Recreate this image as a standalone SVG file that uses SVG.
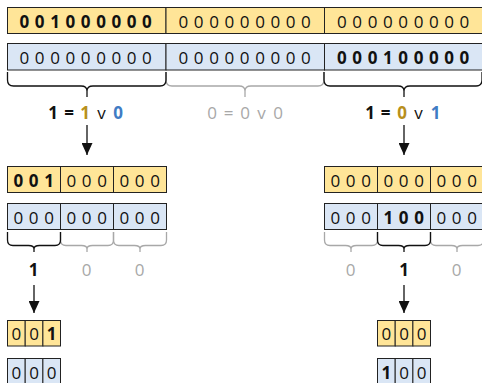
<svg xmlns="http://www.w3.org/2000/svg" width="482" height="383" viewBox="0 0 482 383">
  <style>
    .y { fill: #ffe598; stroke: #222; stroke-width: 1; }
    .b { fill: #dae6f5; stroke: #222; stroke-width: 1; }
    .d { font-family: "Open Sans", "DejaVu Sans", sans-serif; font-size: 17px; fill: #111; text-anchor: middle; }
    .s { letter-spacing: 5.6px; }
    .bold { font-weight: bold; }
    .lbl { font-family: "Open Sans", "DejaVu Sans", sans-serif; font-size: 17px; text-anchor: middle; }
    .k { fill: #111; font-weight: bold; }
    .g { fill: #a8a8a8; }
    .gold { fill: #b8901c; font-weight: bold; }
    .blu { fill: #3f7cc4; font-weight: bold; }
    .v { fill: #111; }
    .br-k { fill: none; stroke: #111; stroke-width: 1.3; }
    .br-g { fill: none; stroke: #a8a8a8; stroke-width: 1.3; }
    .arr { stroke: #111; stroke-width: 1.3; fill: none; marker-end: url(#head); }
  </style>
  <defs>
    <marker id="head" markerUnits="userSpaceOnUse" markerWidth="13" markerHeight="11" refX="12" refY="5.5" orient="auto">
      <path d="M0,0 L12,5.5 L0,11 z" fill="#111"/>
    </marker>
  </defs>

  <!-- level 1: three 9-bit blocks -->
  <g id="l1-a">
    <rect class="y" x="7.5" y="7.5" width="158.5" height="26"/>
    <rect class="y" x="166" y="7.5" width="158.5" height="26"/>
    <rect class="y" x="324.5" y="7.5" width="158.5" height="26"/>
    <text class="d s bold" x="88.5" y="28">001000000</text>
    <text class="d s" x="247.5" y="28">000000000</text>
    <text class="d s" x="406" y="28">000000000</text>
  </g>
  <g id="l1-b">
    <rect class="b" x="7.5" y="43.5" width="158.5" height="26.5"/>
    <rect class="b" x="166" y="43.5" width="158.5" height="26.5"/>
    <rect class="b" x="324.5" y="43.5" width="158.5" height="26.5"/>
    <text class="d s" x="88.5" y="64">000000000</text>
    <text class="d s" x="247.5" y="64">000000000</text>
    <text class="d s bold" x="406" y="64">000100000</text>
  </g>

  <!-- level 1 OR results -->
  <g id="or-1">
    <text class="lbl" y="118.5"><tspan class="k" x="53">1</tspan><tspan class="k" x="69">=</tspan><tspan class="gold" x="85">1</tspan><tspan class="v" x="101.5">v</tspan><tspan class="blu" x="118">0</tspan></text>
  </g>
  <g id="or-2">
    <text class="lbl g" y="118.5"><tspan x="212">0</tspan><tspan x="228.5">=</tspan><tspan x="245">0</tspan><tspan x="261.5">v</tspan><tspan x="278">0</tspan></text>
  </g>
  <g id="or-3">
    <text class="lbl" y="118.5"><tspan class="k" x="370">1</tspan><tspan class="k" x="385.5">=</tspan><tspan class="gold" x="402">0</tspan><tspan class="v" x="418.5">v</tspan><tspan class="blu" x="435.5">1</tspan></text>
  </g>

  <!-- level 2: left triple -->
  <g id="l2-left-a">
    <rect class="y" x="7.5" y="166.5" width="53" height="26"/>
    <rect class="y" x="60.5" y="166.5" width="53" height="26"/>
    <rect class="y" x="113.5" y="166.5" width="53" height="26"/>
    <text class="d s bold" x="36.5" y="187">001</text>
    <text class="d s" x="89.5" y="187">000</text>
    <text class="d s" x="142.5" y="187">000</text>
  </g>
  <g id="l2-left-b">
    <rect class="b" x="7.5" y="203.5" width="53" height="26"/>
    <rect class="b" x="60.5" y="203.5" width="53" height="26"/>
    <rect class="b" x="113.5" y="203.5" width="53" height="26"/>
    <text class="d s" x="36.5" y="224">000</text>
    <text class="d s" x="89.5" y="224">000</text>
    <text class="d s" x="142.5" y="224">000</text>
  </g>

  <!-- level 2: right triple -->
  <g id="l2-right-a">
    <rect class="y" x="324.5" y="166.5" width="53" height="26"/>
    <rect class="y" x="377.5" y="166.5" width="53" height="26"/>
    <rect class="y" x="430.5" y="166.5" width="53" height="26"/>
    <text class="d s" x="353.5" y="187">000</text>
    <text class="d s" x="406.5" y="187">000</text>
    <text class="d s" x="459.5" y="187">000</text>
  </g>
  <g id="l2-right-b">
    <rect class="b" x="324.5" y="203.5" width="53" height="26"/>
    <rect class="b" x="377.5" y="203.5" width="53" height="26"/>
    <rect class="b" x="430.5" y="203.5" width="53" height="26"/>
    <text class="d s" x="353.5" y="224">000</text>
    <text class="d s bold" x="406.5" y="224">100</text>
    <text class="d s" x="459.5" y="224">000</text>
  </g>

  <!-- level 2 OR results -->
  <g id="or-l2">
    <text class="lbl k" x="33.5" y="276">1</text>
    <text class="lbl g" x="86.5" y="276">0</text>
    <text class="lbl g" x="139.5" y="276">0</text>
    <text class="lbl g" x="350.5" y="276">0</text>
    <text class="lbl k" x="404" y="276">1</text>
    <text class="lbl g" x="456.5" y="276">0</text>
  </g>

  <!-- level 3: single bits -->
  <g id="l3-left-a">
    <rect class="y" x="7.5" y="320.5" width="17.7" height="25.5"/>
    <rect class="y" x="25.2" y="320.5" width="17.7" height="25.5"/>
    <rect class="y" x="42.9" y="320.5" width="17.6" height="25.5"/>
    <text class="d" x="16.3" y="340">0</text>
    <text class="d" x="34" y="340">0</text>
    <text class="d bold" x="51.7" y="340">1</text>
  </g>
  <g id="l3-left-b">
    <rect class="b" x="7.5" y="358.5" width="17.7" height="27"/>
    <rect class="b" x="25.2" y="358.5" width="17.7" height="27"/>
    <rect class="b" x="42.9" y="358.5" width="17.6" height="27"/>
    <text class="d" x="16.3" y="379">0</text>
    <text class="d" x="34" y="379">0</text>
    <text class="d" x="51.7" y="379">0</text>
  </g>
  <g id="l3-right-a">
    <rect class="y" x="377.5" y="320.5" width="17.7" height="25.5"/>
    <rect class="y" x="395.2" y="320.5" width="17.7" height="25.5"/>
    <rect class="y" x="412.9" y="320.5" width="17.6" height="25.5"/>
    <text class="d" x="386.3" y="340">0</text>
    <text class="d" x="404" y="340">0</text>
    <text class="d" x="421.7" y="340">0</text>
  </g>
  <g id="l3-right-b">
    <rect class="b" x="377.5" y="358.5" width="17.7" height="27"/>
    <rect class="b" x="395.2" y="358.5" width="17.7" height="27"/>
    <rect class="b" x="412.9" y="358.5" width="17.6" height="27"/>
    <text class="d bold" x="386.3" y="379">1</text>
    <text class="d" x="404" y="379">0</text>
    <text class="d" x="421.7" y="379">0</text>
  </g>

  <!-- braces grouping each block -->
  <g id="braces">
    <path class="br-g" d="M166,72 L166,80 Q166,86 172,86 L239,86 Q245,86 245,91 L245,97 M245,91 Q245,86 251,86 L318,86 Q324,86 324,80 L324,72"/>
    <path class="br-k" d="M7.5,72 L7.5,80 Q7.5,86 13.5,86 L81,86 Q87,86 87,91 L87,97 M87,91 Q87,86 93,86 L160,86 Q166,86 166,80 L166,72"/>
    <path class="br-k" d="M324,72 L324,80 Q324,86 330,86 L398,86 Q404,86 404,91 L404,97 M404,91 Q404,86 410,86 L476,86 Q482,86 482,80 L482,72"/>

    <path class="br-g" d="M60.5,232 L60.5,240 Q60.5,245.5 66,245.5 L81.5,245.5 Q87,245.5 87,249 L87,252 M87,249 Q87,245.5 92.5,245.5 L108,245.5 Q113.5,245.5 113.5,240 L113.5,232"/>
    <path class="br-g" d="M113.5,232 L113.5,240 Q113.5,245.5 119,245.5 L134.5,245.5 Q140,245.5 140,249 L140,252 M140,249 Q140,245.5 145.5,245.5 L161,245.5 Q166.5,245.5 166.5,240 L166.5,232"/>
    <path class="br-k" d="M7.5,232 L7.5,240 Q7.5,245.5 13,245.5 L28.5,245.5 Q34,245.5 34,249 L34,252 M34,249 Q34,245.5 39.5,245.5 L55,245.5 Q60.5,245.5 60.5,240 L60.5,232"/>

    <path class="br-g" d="M324.5,232 L324.5,240 Q324.5,245.5 330,245.5 L345.5,245.5 Q351,245.5 351,249 L351,252 M351,249 Q351,245.5 356.5,245.5 L372,245.5 Q377.5,245.5 377.5,240 L377.5,232"/>
    <path class="br-g" d="M430.5,232 L430.5,240 Q430.5,245.5 436,245.5 L451.5,245.5 Q457,245.5 457,249 L457,252 M457,249 Q457,245.5 462.5,245.5 L478,245.5 Q483.5,245.5 483.5,240 L483.5,232"/>
    <path class="br-k" d="M377.5,232 L377.5,240 Q377.5,245.5 383,245.5 L398.5,245.5 Q404,245.5 404,249 L404,252 M404,249 Q404,245.5 409.5,245.5 L425,245.5 Q430.5,245.5 430.5,240 L430.5,232"/>
  </g>

  <!-- arrows down to the selected block -->
  <g id="connectors">
    <path class="arr" d="M87,125 L87,155"/>
    <path class="arr" d="M404,125 L404,155"/>
    <path class="arr" d="M34,285 L34,313"/>
    <path class="arr" d="M404,285 L404,313"/>
  </g>
</svg>
